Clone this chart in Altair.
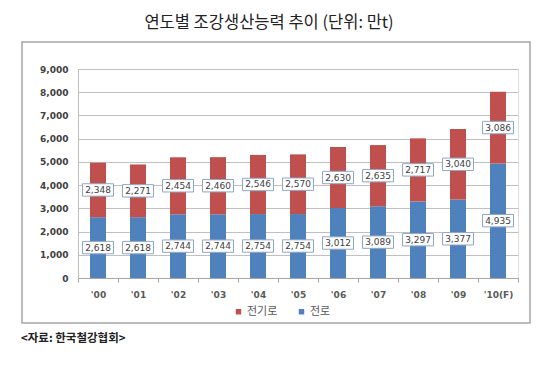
import altair as alt
import pandas as pd

years = ["'00", "'01", "'02", "'03", "'04", "'05", "'06", "'07", "'08", "'09", "'10(F)"]
converter = [2618, 2618, 2744, 2744, 2754, 2754, 3012, 3089, 3297, 3377, 4935]   # 전로 (blue, bottom)
electric = [2348, 2271, 2454, 2460, 2546, 2570, 2630, 2635, 2717, 3040, 3086]    # 전기로 (red, top)
series_names = ["전기로", "전로"]
colors = ["#C0504D", "#4F81BD"]
y_ticks = [0, 1000, 2000, 3000, 4000, 5000, 6000, 7000, 8000, 9000]
title_text = "연도별 조강생산능력 추이 (단위: 만t)"
source_text = "<자료: 한국철강협회>"

rows = []
for yr, b, r in zip(years, converter, electric):
    rows.append({"year": yr, "series": "전로", "value": b, "lo": 0, "hi": b, "mid": b / 2})
    rows.append({"year": yr, "series": "전기로", "value": r, "lo": b, "hi": b + r, "mid": b + r / 2})
df = pd.DataFrame(rows)

W, H = 440, 209
FONT = "DejaVu Sans"

x_axis = alt.Axis(labelAngle=0, labelFont=FONT, labelFontSize=9, labelFontWeight="bold",
                  labelColor="#595959", labelPadding=8, tickBand="extent", tickSize=4,
                  tickColor="#A6A6A6", domainColor="#A6A6A6", grid=False)
x_scale = alt.Scale(paddingInner=0, paddingOuter=0)
y_axis = alt.Axis(values=y_ticks, format=",d", labelFont=FONT, labelOverlap=False,
                  labelFontSize=9, labelFontWeight="bold", labelColor="#404040",
                  labelPadding=10, ticks=False, domainColor="#BFBFBF",
                  gridColor="#C0C0C0", gridWidth=1)
y_scale = alt.Scale(domain=[0, 9000], nice=False)


def xe():
    return alt.X("year:N", sort=years, title=None, scale=x_scale, axis=x_axis)


def ye(field):
    return alt.Y(field, title=None, scale=y_scale, axis=y_axis)


color_enc = alt.Color("series:N", scale=alt.Scale(domain=series_names, range=colors),
                      legend=alt.Legend(title=None, orient="none", legendX=155, legendY=237,
                                        direction="horizontal", symbolType="square", symbolSize=30,
                                        labelFont="Noto Sans CJK KR", labelFontSize=11,
                                        labelColor="#595959", columnPadding=18, padding=0,
                                        labelOffset=3, symbolStrokeWidth=0))

bars = alt.Chart(df).mark_bar(size=16).encode(
    x=xe(), y=ye("lo:Q"), y2="hi:Q", color=color_enc,
)

boxes = alt.Chart(df).mark_point(
    shape="M-1,-0.4H1V0.4H-1Z", size=31 * 31, filled=True, fill="white",
    stroke="#8FA8C6", strokeWidth=1, opacity=1,
).encode(x=xe(), y=ye("mid:Q"))

labels = alt.Chart(df).mark_text(font=FONT, fontSize=9, color="#404040").encode(
    x=xe(), y=ye("mid:Q"), text=alt.Text("value:Q", format=",d"))

frame = alt.Chart(pd.DataFrame({"k": [0]})).mark_rect(
    fill=None, stroke="#A6A6A6", strokeWidth=1.5
).encode(x=alt.value(-56), x2=alt.value(452), y=alt.value(-27), y2=alt.value(254))

title = alt.Chart(pd.DataFrame({"t": [title_text]})).mark_text(
    font="Noto Sans CJK KR", fontSize=16.5, color="#222222", align="center", baseline="middle"
).encode(x=alt.value(191), y=alt.value(-46), text="t:N")

source = alt.Chart(pd.DataFrame({"t": [source_text]})).mark_text(
    font="Noto Sans CJK KR", fontSize=11.5, fontWeight="bold", color="#222222", align="left",
    baseline="middle"
).encode(x=alt.value(-57), y=alt.value(270), text="t:N")

chart = alt.layer(frame, bars, boxes, labels, title, source).properties(
    width=W, height=H,
    autosize=alt.AutoSizeParams(type="none"),
    padding={"left": 70, "top": 61, "right": 24, "bottom": 80},
).configure_view(stroke=None).configure(background="white")

chart.save("out.html", embed_options={"renderer": "svg", "actions": False})
